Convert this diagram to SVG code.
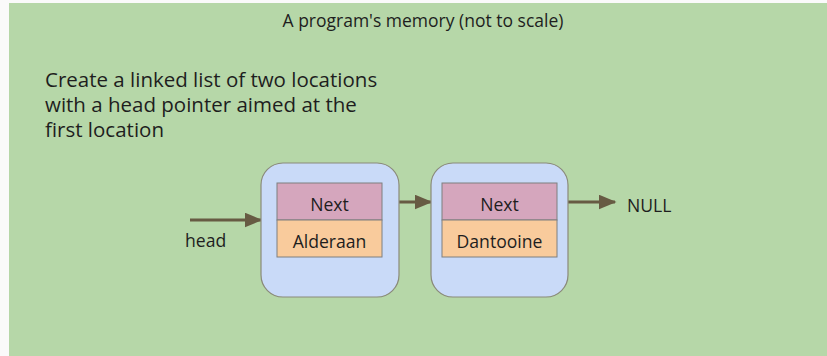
<svg xmlns="http://www.w3.org/2000/svg" width="827" height="356" viewBox="0 0 827 356">
  <defs>
    <style>
      text { font-family: "Open Sans", "Liberation Sans", sans-serif; fill: #1e1e1e; }
      .node { fill: #c9daf8; stroke: #8a8a7a; stroke-width: 1.2; }
      .next { fill: #d5a6bd; stroke: #7f7f7f; stroke-width: 1; }
      .data { fill: #f9cb9c; stroke: #7f7f7f; stroke-width: 1; }
      .link { stroke: #675b43; stroke-width: 3; fill: none; marker-end: url(#arrow); }
      .lbl { font-size: 17.6px; text-anchor: middle; }
      .para { font-size: 20.5px; }
    </style>
    <marker id="arrow" markerWidth="6" markerHeight="5" refX="5.5" refY="2.5" orient="auto" markerUnits="strokeWidth">
      <path d="M0,0 L6,2.5 L0,5 Z" fill="#675b43"/>
    </marker>
  </defs>

  <rect x="0" y="0" width="827" height="356" fill="#fafafa"/>
  <rect x="9" y="3" width="818" height="353" fill="#b6d7a8"/>

  <text x="423" y="27" font-size="17.5" text-anchor="middle">A program's memory (not to scale)</text>
  <text class="para" x="45" y="87">Create a linked list of two locations</text>
  <text class="para" x="45" y="112">with a head pointer aimed at the</text>
  <text class="para" x="45" y="137">first location</text>

  <g id="connectors">
    <line class="link" x1="190" y1="220" x2="261" y2="220"/>
    <line class="link" x1="382" y1="202" x2="431" y2="202"/>
    <line class="link" x1="557" y1="202" x2="615" y2="202"/>
  </g>

  <g id="head">
    <text x="185" y="247" font-size="17.6">head</text>
  </g>

  <g id="alderaan">
    <rect class="node" x="261" y="163" width="138" height="134" rx="22"/>
    <rect class="next" x="277" y="183" width="105" height="37"/>
    <rect class="data" x="277" y="220" width="105" height="37"/>
    <text class="lbl" x="329.5" y="211">Next</text>
    <text class="lbl" x="329.5" y="248">Alderaan</text>
  </g>

  <g id="dantooine">
    <rect class="node" x="431" y="163" width="137" height="134" rx="22"/>
    <rect class="next" x="442" y="183" width="115" height="37"/>
    <rect class="data" x="442" y="220" width="115" height="37"/>
    <text class="lbl" x="499.5" y="211">Next</text>
    <text class="lbl" x="499.5" y="248">Dantooine</text>
  </g>

  <g id="null">
    <text x="627" y="212" font-size="17.6">NULL</text>
  </g>
</svg>
